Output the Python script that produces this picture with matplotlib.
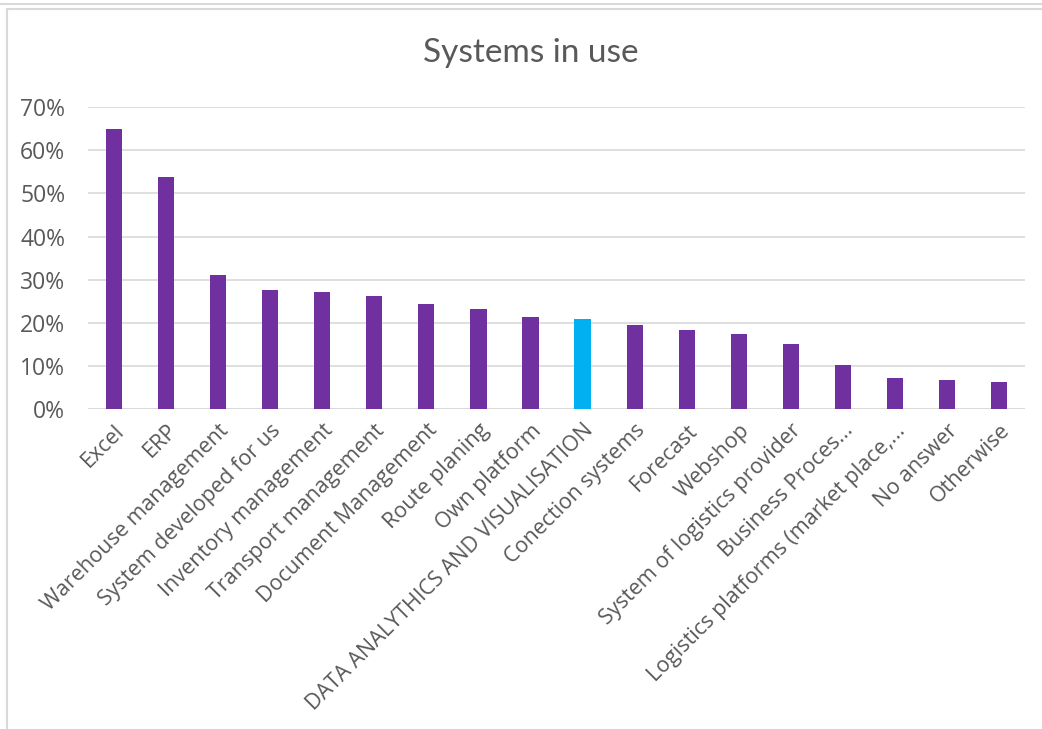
import matplotlib
matplotlib.use("Agg")
import matplotlib.pyplot as plt
from matplotlib.lines import Line2D
from matplotlib.patches import Rectangle
from matplotlib.ticker import PercentFormatter, MultipleLocator

plt.rcParams["font.family"] = ["Open Sans", "DejaVu Sans"]

PURPLE = "#7030A0"
CYAN = "#00B0F0"
TXT = "#595959"
GRID = "#D9D9D9"

categories = [
    "Excel", "ERP", "Warehouse management", "System developed for us",
    "Inventory management", "Transport management", "Document Management",
    "Route planing", "Own platform", "DATA ANALYTHICS AND VISUALISATION",
    "Conection systems", "Forecast", "Webshop", "System of logistics provider",
    "Business Proces...", "Logistics platforms (market place,...",
    "No answer", "Otherwise",
]
shares = [0.650, 0.538, 0.310, 0.277, 0.271, 0.262, 0.243, 0.232, 0.213,
          0.209, 0.194, 0.183, 0.174, 0.150, 0.101, 0.071, 0.067, 0.062]
highlight = "DATA ANALYTHICS AND VISUALISATION"

fig = plt.figure(figsize=(10.42, 7.29), dpi=100, facecolor="white")
ax = fig.add_axes([0.0845, 0.439, 0.8992, 0.414])

colors = [CYAN if c == highlight else PURPLE for c in categories]
x = range(len(categories))
ax.bar(x, shares, width=0.31, color=colors, zorder=3)

ax.set_xlim(-0.5, len(categories) - 0.5)
ax.set_ylim(0, 0.7)
ax.yaxis.set_major_locator(MultipleLocator(0.1))
ax.yaxis.set_major_formatter(PercentFormatter(1.0, decimals=0))
ax.grid(axis="y", color=GRID, lw=1.2, zorder=0)
for s in ax.spines.values():
    s.set_visible(False)
ax.axhline(0, color=GRID, lw=1.2, zorder=2)

ax.tick_params(axis="y", length=0, pad=16.5, labelsize=16.5, labelcolor=TXT)
ax.tick_params(axis="x", length=0, pad=8)

ax.set_xticks(list(x))
ax.set_xticklabels(categories, rotation=45, ha="right", va="top",
                   rotation_mode="anchor", fontsize=15.5, color=TXT)

fig.text(0.509, 0.927, "Systems in use", ha="center", va="center",
         fontsize=24, color=TXT, fontfamily="Lato")

# screenshot frame around the chart
fig.add_artist(Line2D([0, 1], [1 - 4 / 729, 1 - 4 / 729], color=GRID, lw=1.5))
fig.add_artist(Rectangle((7 / 1042, -0.1), 1.2, 1.1 - 9 / 729, fill=False,
                         edgecolor=GRID, lw=1.5))

fig.savefig("out.png", dpi=100, facecolor="white")
